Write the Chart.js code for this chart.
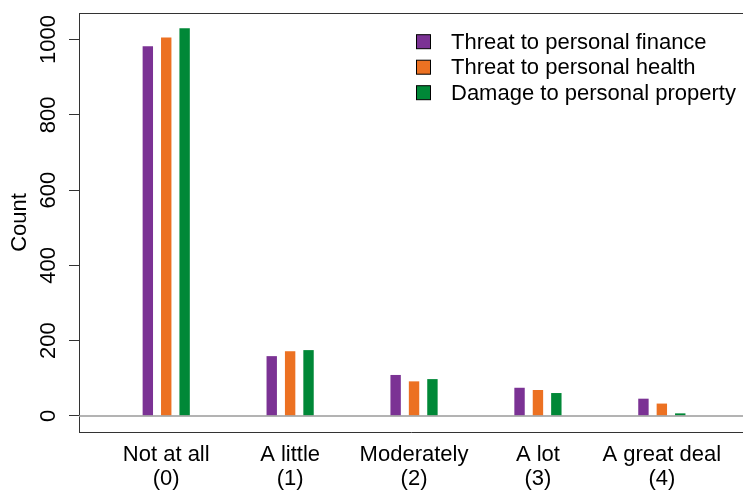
<!DOCTYPE html>
<html>
<head>
<meta charset="utf-8">
<script src="https://cdn.jsdelivr.net/npm/chart.js@4/dist/chart.umd.min.js"></script>
<style>
  html, body { margin: 0; padding: 0; background: #fff; }
  #wrap { width: 743px; height: 493px; }
</style>
</head>
<body>
<div id="wrap"><canvas id="c" width="743" height="493"></canvas></div>
<script>
// Response categories and their codes
const categories = ['Not at all', 'A little', 'Moderately', 'A lot', 'A great deal'];
const codes = ['(0)', '(1)', '(2)', '(3)', '(4)'];

// Counts per response category
const finance  = [982, 159, 109, 75, 46];
const health   = [1005, 172, 92, 69, 33];
const property = [1030, 175, 98, 61, 7];

const seriesNames = ['Threat to personal finance', 'Threat to personal health', 'Damage to personal property'];
const seriesColors = ['#7b3294', '#ec7122', '#008837'];

const yTicks = [0, 200, 400, 600, 800, 1000];

const FONT = "'Liberation Sans', Arial, Helvetica, sans-serif";

// Y tick labels drawn parallel to the axis, a zero reference line,
// the top frame line and a vertical legend inside the plot
const decorations = {
  id: 'decorations',
  afterDatasetsDraw(chart) {
    const { ctx, chartArea: a, scales: { y } } = chart;
    ctx.save();
    // zero line
    const y0 = y.getPixelForValue(0);
    ctx.strokeStyle = '#9a9a9a';
    ctx.lineWidth = 1.6;
    ctx.beginPath();
    ctx.moveTo(a.left, y0);
    ctx.lineTo(a.right, y0);
    ctx.stroke();
    // top frame line
    ctx.strokeStyle = '#333';
    ctx.lineWidth = 1;
    ctx.beginPath();
    ctx.moveTo(a.left, a.top + 0.5);
    ctx.lineTo(a.right, a.top + 0.5);
    ctx.stroke();
    ctx.restore();
  },
  afterDraw(chart) {
    const { ctx, scales: { y } } = chart;
    ctx.save();
    ctx.fillStyle = '#000';
    ctx.font = '22px ' + FONT;
    ctx.textAlign = 'center';
    ctx.textBaseline = 'middle';
    y.ticks.forEach(t => {
      const py = y.getPixelForValue(t.value);
      ctx.save();
      ctx.translate(47.5, py);
      ctx.rotate(-Math.PI / 2);
      ctx.fillText(String(t.value), 0, 1);
      ctx.restore();
    });
    // legend
    chart.data.datasets.forEach((ds, i) => {
      const cy = 41.7 + 25.5 * i;
      ctx.fillStyle = ds.backgroundColor;
      ctx.fillRect(416.5, cy - 7, 14, 14);
      ctx.strokeStyle = '#000';
      ctx.lineWidth = 1;
      ctx.strokeRect(416.5, cy - 7, 14, 14);
      ctx.fillStyle = '#000';
      ctx.textAlign = 'left';
      ctx.fillText(ds.label, 451, cy + 1);
    });
    ctx.restore();
  }
};

const seriesValues = [finance, health, property];

new Chart(document.getElementById('c'), {
  type: 'bar',
  data: {
    labels: categories.map((_, i) => i),
    datasets: seriesValues.map((vals, i) => ({
      label: seriesNames[i],
      data: vals,
      backgroundColor: seriesColors[i],
      borderWidth: 0,
      categoryPercentage: 0.4455,
      barPercentage: 0.565
    }))
  },
  options: {
    responsive: false,
    animation: false,
    layout: { padding: { top: 13, right: 0, bottom: 0, left: 0 } },
    plugins: {
      legend: { display: false },
      tooltip: { enabled: false }
    },
    scales: {
      x: {
        type: 'linear',
        offset: false,
        min: -0.704,
        max: 4.655,
        grid: { display: false, offset: false },
        border: { display: true, color: '#333', width: 1 },
        afterBuildTicks: s => { s.ticks = categories.map((_, i) => ({ value: i })); },
        afterFit: s => { s.height = 61; },
        ticks: {
          autoSkip: false,
          maxRotation: 0,
          minRotation: 0,
          padding: 3,
          color: '#000',
          font: { family: FONT, size: 22, lineHeight: 1.09 },
          callback: v => [categories[v], codes[v]]
        }
      },
      y: {
        min: -42.5,
        max: 1070.4,
        afterBuildTicks: s => { s.ticks = yTicks.map(v => ({ value: v })); },
        afterFit: s => { s.width = 79; },
        grid: {
          display: true,
          drawOnChartArea: false,
          drawTicks: true,
          tickLength: 10,
          color: '#333',
          lineWidth: 1
        },
        border: { display: true, color: '#333', width: 1 },
        ticks: { display: false },
        title: {
          display: true,
          text: 'Count',
          color: '#000',
          font: { family: FONT, size: 22, lineHeight: 1.2 },
          padding: { top: 7, bottom: 0 }
        }
      }
    }
  },
  plugins: [decorations]
});
</script>
</body>
</html>
